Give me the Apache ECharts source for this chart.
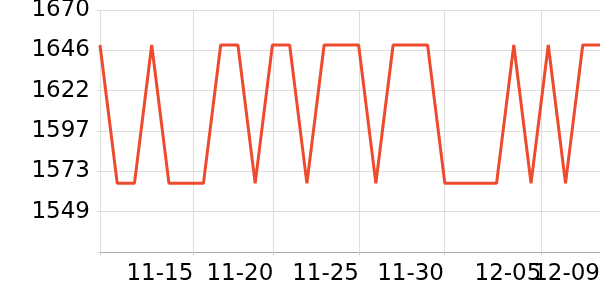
<!DOCTYPE html>
<html>
<head>
<meta charset="utf-8">
<script src="https://cdn.jsdelivr.net/npm/echarts@6/dist/echarts.min.js"></script>
<style>html,body{margin:0;padding:0;background:#fff}#c{width:600px;height:300px}</style>
</head>
<body>
<div id="c"></div>
<script>
var dates = ['2023-11-10','2023-11-11','2023-11-12','2023-11-13','2023-11-14','2023-11-15','2023-11-16','2023-11-17','2023-11-18','2023-11-19',
             '2023-11-20','2023-11-21','2023-11-22','2023-11-23','2023-11-24','2023-11-25','2023-11-26','2023-11-27','2023-11-28','2023-11-29',
             '2023-11-30','2023-12-01','2023-12-02','2023-12-03','2023-12-04','2023-12-05','2023-12-06','2023-12-07','2023-12-08','2023-12-09'];
var values = [1649,1566,1566,1649,1566,1566,1566,1649,1649,1566,
              1649,1649,1566,1649,1649,1649,1566,1649,1649,1649,
              1566,1566,1566,1566,1649,1566,1649,1566,1649,1649];
var xTicks = ['2023-11-10T00:00','2023-11-15T09:50','2023-11-20T01:12','2023-11-25T00:30','2023-11-29T22:48','2023-12-05T14:24'];
var xLabelPositions = ['2023-11-15T09:50','2023-11-20T01:12','2023-11-25T00:30','2023-11-29T22:48','2023-12-05T14:24','2023-12-09T00:00'];
var xLabels = ['11-15','11-20','11-25','11-30','12-05','12-09'];
var yMin = 1524.8, yMax = 1670;
var yTicks = [1524.8,1549,1573.2,1597.4,1621.6,1645.8,1670];

function ts(s){ return new Date(s).getTime(); }
var xTickTs = xTicks.map(ts);
var xLabelTs = xLabelPositions.map(ts);
var xMin = ts(dates[0]), xMax = ts(dates[dates.length-1]);

function labelFor(v){
  var i = xLabelTs.indexOf(v);
  return i >= 0 ? xLabels[i] : '';
}
var labelStyle = {fontFamily: 'DejaVu Sans', fontSize: 23, color:'#000'};

var chart = echarts.init(document.getElementById('c'), null, {renderer:'canvas'});
chart.setOption({
  animation: false,
  grid: {left:100, right:0, top:10, bottom:48, containLabel:false, outerBoundsMode:'none'},
  xAxis: [{
    type: 'value',
    min: xMin, max: xMax,
    axisLine: {show:true, lineStyle:{color:'#aaaaaa', width:1}},
    axisTick: {show:true, length:3, lineStyle:{color:'#cccccc'}, customValues: xTickTs},
    splitLine: {show:true, lineStyle:{color:'#dddddd', width:1}},
    axisLabel: Object.assign({
      customValues: xLabelTs.slice(0, -1),
      align: 'right',
      margin: 11,
      showMinLabel: true,
      showMaxLabel: true,
      hideOverlap: false,
      formatter: labelFor
    }, labelStyle)
  }, {
    type: 'value',
    position: 'bottom',
    min: xMin, max: xMax,
    axisLine: {show:false},
    axisTick: {show:false},
    splitLine: {show:false},
    axisLabel: Object.assign({
      customValues: xLabelTs.slice(-1),
      align: 'right',
      margin: 11,
      showMinLabel: true,
      showMaxLabel: true,
      formatter: labelFor
    }, labelStyle)
  }],
  yAxis: {
    type: 'value',
    min: yMin, max: yMax,
    axisLine: {show:false},
    axisTick: {show:true, length:3, lineStyle:{color:'#dddddd'}, customValues: yTicks},
    splitLine: {show:true, lineStyle:{color:'#dddddd', width:1}},
    axisLabel: Object.assign({
      customValues: yTicks.slice(1),
      margin: 10,
      showMaxLabel: true,
      formatter: function(v){ return String(Math.round(v)); }
    }, labelStyle)
  },
  series: [{
    type: 'line',
    data: dates.map(function(d,i){ return [ts(d), values[i]]; }),
    showSymbol: false,
    lineStyle: {color:'#ee4a2d', width:3},
    itemStyle: {color:'#ee4a2d'}
  }]
});
</script>
</body>
</html>
